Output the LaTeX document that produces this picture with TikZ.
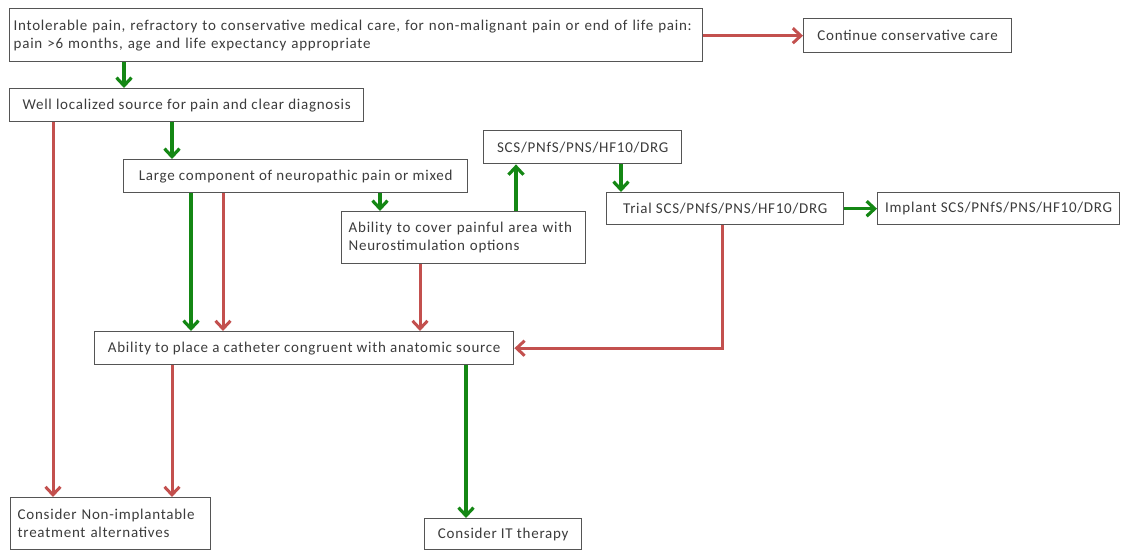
\documentclass[tikz,border=0pt]{standalone}
\usepackage{fontspec}
\setmainfont{Carlito}[LetterSpace=5]
\usetikzlibrary{arrows.meta}
\definecolor{boxc}{RGB}{85,85,85}
\definecolor{txtc}{RGB}{60,60,60}
\definecolor{grn}{RGB}{20,135,20}
\definecolor{rd}{RGB}{195,80,78}
\tikzset{
  bx/.style 2 args={draw=boxc, line width=1.4pt, anchor=north west, inner sep=0pt,
    minimum width=#1, minimum height=#2, align=center, text=txtc,
    font=\fontsize{15}{18}\selectfont},
  bxl/.style 2 args={draw=boxc, line width=1.4pt, anchor=north west, inner xsep=7pt, inner ysep=0pt,
    text width=#1, minimum height=#2, align=left, text=txtc,
    font=\fontsize{15}{18}\selectfont},
  yes/.style={draw=grn, line width=3.2pt, -{Straight Barb[length=8pt,width=15pt,line width=3.2pt]}},
  no/.style={draw=rd, line width=3pt, -{Straight Barb[length=8pt,width=15pt,line width=3pt]}},
}
\begin{document}
\begin{tikzpicture}[x=1pt,y=-1pt]
\fill[white] (0,0) rectangle (1122,551);
\useasboundingbox (0,0) rectangle (1122,551);
% column coordinates
\coordinate (c53) at (53,0);
\coordinate (c124) at (124,0);
\coordinate (c172) at (172,0);
\coordinate (c191) at (191,0);
\coordinate (c223) at (223,0);
\coordinate (c380) at (380,0);
\coordinate (c420) at (420,0);
\coordinate (c466) at (466,0);
\coordinate (c516) at (516,0);
\coordinate (c621) at (621,0);
\coordinate (c722) at (722,0);
% boxes
\node[bxl={685pt}{53pt}, inner xsep=4pt] (top) at (9,8) {Intolerable pain, refractory to conservative medical care, for non-malignant pain or end of life pain:\\pain >6 months, age and life expectancy appropriate};
\node[bx={208pt}{34pt}] (cont) at (803,18) {Continue conservative care};
\node[bx={354pt}{33pt}] (well) at (9,88) {Well localized source for pain and clear diagnosis};
\node[bx={344pt}{33pt}] (large) at (123,159) {Large component of neuropathic pain or mixed};
\node[bx={198pt}{33pt}] (scs) at (483,130) {SCS/PNfS/PNS/HF10/DRG};
\node[bxl={230pt}{52pt}] (abil) at (341,211) {Ability to cover painful area with\\Neurostimulation options};
\node[bx={237pt}{32pt}] (trial) at (606,192) {Trial SCS/PNfS/PNS/HF10/DRG};
\node[bx={242pt}{32pt}] (impl) at (877,192) {Implant SCS/PNfS/PNS/HF10/DRG};
\node[bx={419pt}{33pt}] (cath) at (94,331) {Ability to place a catheter congruent with anatomic source};
\node[bxl={186pt}{52pt}] (nonimp) at (10,497) {Consider Non-implantable\\treatment alternatives};
\node[bx={157pt}{31pt}] (it) at (424,518) {Consider IT therapy};
% connectors
\draw[no] (top.east |- cont.west) -- (cont.west);
\draw[yes] (top.south -| c124) -- (well.north -| c124);
\draw[yes] (well.south -| c172) -- (large.north -| c172);
\draw[no] (well.south -| c53) -- (nonimp.north -| c53);
\draw[yes] (large.south -| c191) -- (cath.north -| c191);
\draw[no] (large.south -| c223) -- (cath.north -| c223);
\draw[yes] (large.south -| c380) -- (abil.north -| c380);
\draw[yes] (abil.north -| c516) -- (scs.south -| c516);
\draw[yes] (scs.south -| c621) -- (trial.north -| c621);
\draw[yes] (trial.east) -- (impl.west);
\draw[no] (abil.south -| c420) -- (cath.north -| c420);
\draw[no] (trial.south -| c722) |- (cath.east);
\draw[no] (cath.south -| c172) -- (nonimp.north -| c172);
\draw[yes] (cath.south -| c466) -- (it.north -| c466);
\end{tikzpicture}
\end{document}
